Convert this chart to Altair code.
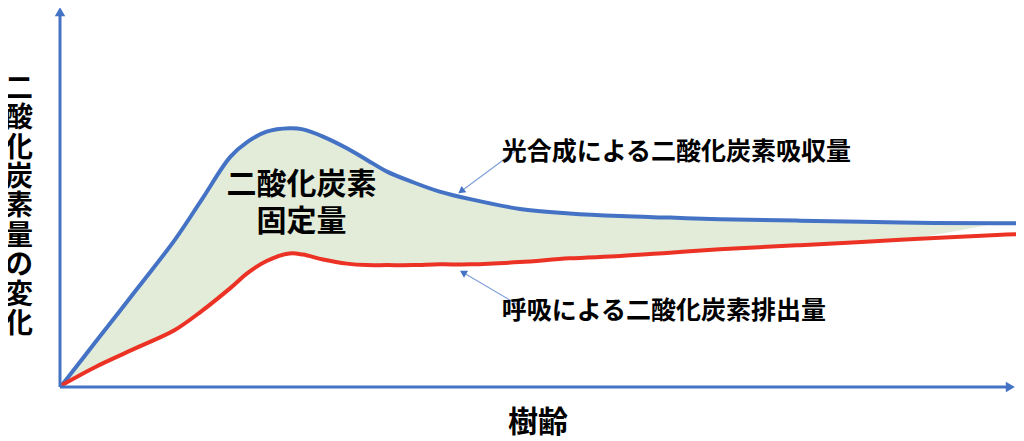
import altair as alt
import pandas as pd

# ---- data (tree age vs. CO2 amount, arbitrary units) ----
ages = [0, 3.5, 8.0, 11.8, 14.6, 17.6, 19.4, 21.4, 23.8, 25.2, 27.3, 29.8, 31.9,
        34.0, 36.7, 39.5, 42.7, 47.9, 53.1, 58.4, 63.6, 68.8, 77.2, 87.7, 97.8, 100.0]
photosynthesis = [0, 11.4, 26.0, 38.5, 49.1, 60.5, 64.5, 67.2, 68.1, 67.8, 65.9, 62.8,
                  59.7, 56.6, 53.8, 51.3, 49.3, 46.7, 45.5, 44.8, 44.4, 44.0, 43.6,
                  43.1, 42.9, 42.9]
respiration = [0, 4.8, 10.1, 14.6, 19.6, 25.7, 29.7, 32.9, 34.9, 34.6, 33.3, 32.2,
               31.8, 31.8, 31.8, 32.0, 32.0, 32.6, 33.6, 34.2, 35.1, 36.0, 37.1,
               38.5, 39.8, 40.0]
fill_ages = ages[:-1]
fill_upper = photosynthesis[:-1]
fill_lower = respiration[:-2] + [42.9]

y_title = "二酸化炭素量の変化"
x_title = "樹齢"
fixed_label = "二酸化炭素\n固定量"
photo_label = "光合成による二酸化炭素吸収量"
resp_label = "呼吸による二酸化炭素排出量"

BLUE = "#4472C4"
RED = "#EC3224"
GREEN = "#E3EBD9"
FONT = "Noto Sans CJK JP"

xs = alt.Scale(domain=[-5.65, 99.79], nice=False, zero=False)
ys = alt.Scale(domain=[-14.85, 100], nice=False, zero=False)

curves = pd.DataFrame({"age": ages, "photo": photosynthesis, "resp": respiration})
fill = pd.DataFrame({"age": fill_ages, "upper": fill_upper, "lower": fill_lower})

X = lambda f: alt.X(f, type="quantitative", scale=xs, axis=None)
Y = lambda f: alt.Y(f, type="quantitative", scale=ys, axis=None)

INTERP = "catmull-rom"
area = alt.Chart(fill).mark_area(color=GREEN, interpolate=INTERP).encode(
    x=X("age"), y=Y("upper"), y2="lower")
blue = alt.Chart(curves).mark_line(color=BLUE, strokeWidth=4, interpolate=INTERP,
                                   strokeCap="round").encode(x=X("age"), y=Y("photo"))
red = alt.Chart(curves).mark_line(color=RED, strokeWidth=4, interpolate=INTERP,
                                  strokeCap="round").encode(x=X("age"), y=Y("resp"))

# axes drawn as arrows
axes_lines = pd.DataFrame({"x": [-0.21, -0.21], "x2": [98.8, -0.21],
                           "y": [-0.53, -0.53], "y2": [-0.53, 97.9]})
axis_rules = alt.Chart(axes_lines).mark_rule(color=BLUE, strokeWidth=3).encode(
    x=X("x"), x2="x2", y=Y("y"), y2="y2")
heads = pd.DataFrame({"x": [99.2, -0.21], "y": [-0.53, 99.0],
                      "shape": ["triangle-right", "triangle-up"]})
axis_heads = alt.Chart(heads).mark_point(filled=True, color=BLUE, opacity=1, size=110).encode(
    x=X("x"), y=Y("y"), shape=alt.Shape("shape:N", scale=None, legend=None))

# annotation pointers
ptr = pd.DataFrame({"x": [47.56, 47.73], "y": [62.33, 21.22],
                    "x2": [41.75, 41.95], "y2": [51.4, 29.84],
                    "angle": [233.3, 300.4]})
ptr_lines = alt.Chart(ptr).mark_rule(color="#7F9FDA", strokeWidth=1.2).encode(
    x=X("x"), x2="x2", y=Y("y"), y2="y2")
ptr_heads = alt.Chart(ptr).mark_point(filled=True, color=BLUE, opacity=1, size=64,
                                      shape="triangle-up").encode(
    x=X("x2"), y=Y("y2"), angle=alt.Angle("angle:Q", scale=None))

# texts
# vertical y-axis title: one character per row, stacked downward
title_top, title_step = 78.3, 7.8
ytitle_df = pd.DataFrame({"x": [-4.5] * len(y_title),
                          "y": [title_top - i * title_step for i in range(len(y_title))],
                          "t": list(y_title)})
ytitle = alt.Chart(ytitle_df).mark_text(
    font=FONT, fontSize=28, fontWeight="bold", color="black",
    align="center", baseline="middle").encode(x=X("x"), y=Y("y"), text="t:N")
xtitle = alt.Chart(pd.DataFrame({"x": [49.8], "y": [-9.95], "t": [x_title]})).mark_text(
    font=FONT, fontSize=30, fontWeight="bold", color="black", align="center",
    baseline="middle").encode(x=X("x"), y=Y("y"), text="t:N")
fixed = alt.Chart(pd.DataFrame({"x": [25.05], "y": [53.05], "t": [fixed_label]})).mark_text(
    font=FONT, fontSize=30, fontWeight="bold", color="black", lineBreak="\n",
    lineHeight=37, align="center", baseline="middle").encode(x=X("x"), y=Y("y"), text="t:N")
labels = alt.Chart(pd.DataFrame({"x": [46.0, 46.0], "y": [61.7, 19.7],
                                 "t": [photo_label, resp_label]})).mark_text(
    font=FONT, fontSize=25, fontWeight="bold", color="black", align="left",
    baseline="middle").encode(x=X("x"), y=Y("y"), text="t:N")

chart = alt.layer(area, blue, red, axis_rules, axis_heads, ptr_lines, ptr_heads,
                  ytitle, xtitle, fixed, labels).properties(
    width=1008, height=433, autosize=alt.AutoSizeParams(type="none"), padding=0
).configure(background="white", view=alt.ViewConfig(stroke="transparent", strokeWidth=0))

chart.save("out.html", embed_options={"renderer": "svg", "actions": False})
